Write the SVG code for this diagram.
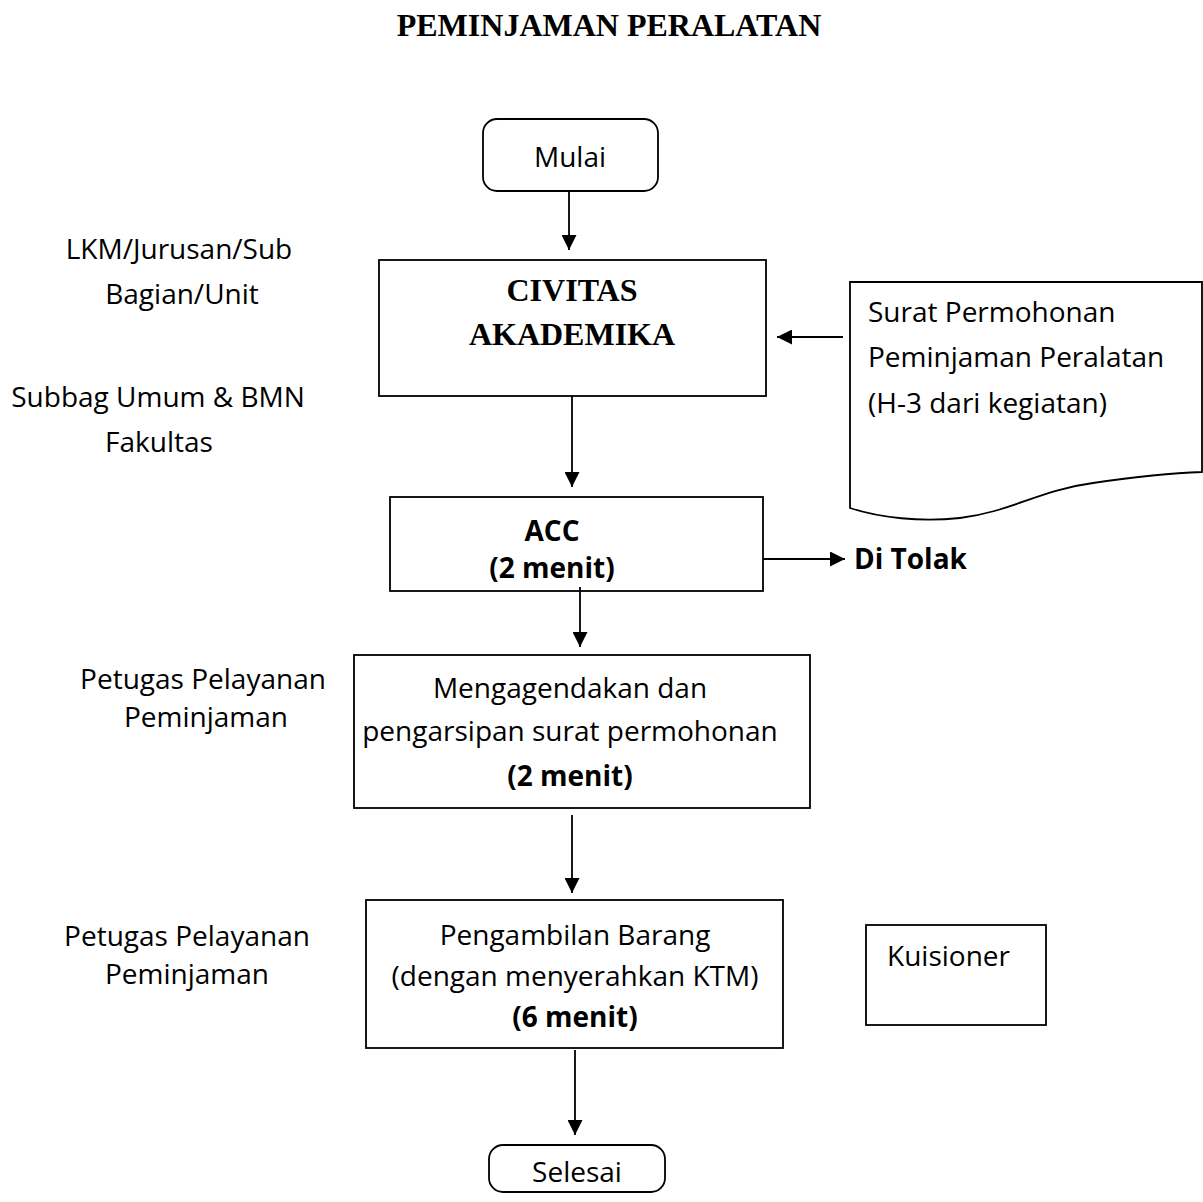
<svg xmlns="http://www.w3.org/2000/svg" width="1203" height="1202" viewBox="0 0 1203 1202">
  <style>
    .box { fill: #fff; stroke: #000; stroke-width: 1.8; }
    .edge { fill: none; stroke: #000; stroke-width: 1.8; }
    .t { font-family: "Open Sans", "Noto Sans", "Liberation Sans", sans-serif; font-size: 28px; fill: #000; }
    .c { text-anchor: middle; }
    .b { font-weight: bold; }
    .serif { font-family: "Liberation Serif", "Times New Roman", serif; font-weight: bold; font-size: 32px; fill: #000; text-anchor: middle; }
  </style>
  <defs>
    <marker id="arrow" markerUnits="userSpaceOnUse" markerWidth="15" markerHeight="15" refX="15" refY="7.5" orient="auto">
      <path d="M0,0 L15,7.5 L0,15 z" fill="#000"/>
    </marker>
  </defs>

  <rect width="1203" height="1202" fill="#fff"/>

  <text class="serif" x="609" y="36">PEMINJAMAN PERALATAN</text>

  <!-- role labels down the left side -->
  <g id="labels">
    <text class="t c" x="179" y="259">LKM/Jurusan/Sub</text>
    <text class="t c" x="182" y="304">Bagian/Unit</text>
    <text class="t c" x="158" y="407">Subbag Umum &amp; BMN</text>
    <text class="t c" x="159" y="452">Fakultas</text>
    <text class="t c" x="203" y="689">Petugas Pelayanan</text>
    <text class="t c" x="206" y="727">Peminjaman</text>
    <text class="t c" x="187" y="946">Petugas Pelayanan</text>
    <text class="t c" x="187" y="984">Peminjaman</text>
  </g>

  <g id="mulai">
    <rect class="box" x="483" y="119" width="175" height="72" rx="14"/>
    <text class="t c" x="570" y="167">Mulai</text>
  </g>

  <g id="civitas">
    <rect class="box" x="379" y="260" width="387" height="136"/>
    <text class="serif" x="572" y="301">CIVITAS</text>
    <text class="serif" x="572" y="345">AKADEMIKA</text>
  </g>

  <g id="surat">
    <path class="box" d="M850,282 H1202 V472 C1170,473 1140,476 1093,483 C1040,490 1010,512 960,518 C920,522 880,518 850,508 Z"/>
    <text class="t" x="868" y="322">Surat Permohonan</text>
    <text class="t" x="868" y="367">Peminjaman Peralatan</text>
    <text class="t" x="868" y="413">(H-3 dari kegiatan)</text>
  </g>

  <g id="acc">
    <rect class="box" x="390" y="497" width="373" height="94"/>
    <text class="t c b" x="552" y="541">ACC</text>
    <text class="t c b" x="552" y="578">(2 menit)</text>
  </g>

  <g id="ditolak">
    <text class="t b" x="854" y="569" font-size="26">Di Tolak</text>
  </g>

  <g id="mengagendakan">
    <rect class="box" x="354" y="655" width="456" height="153"/>
    <text class="t c" x="570" y="698">Mengagendakan dan</text>
    <text class="t c" x="570" y="741">pengarsipan surat permohonan</text>
    <text class="t c b" x="570" y="786">(2 menit)</text>
  </g>

  <g id="pengambilan">
    <rect class="box" x="366" y="900" width="417" height="148"/>
    <text class="t c" x="575" y="945">Pengambilan Barang</text>
    <text class="t c" x="575" y="986">(dengan menyerahkan KTM)</text>
    <text class="t c b" x="575" y="1027">(6 menit)</text>
  </g>

  <g id="kuisioner">
    <rect class="box" x="866" y="925" width="180" height="100"/>
    <text class="t" x="887" y="966">Kuisioner</text>
  </g>

  <g id="selesai">
    <rect class="box" x="489" y="1145" width="176" height="47" rx="14"/>
    <text class="t c" x="577" y="1182">Selesai</text>
  </g>

  <!-- connectors -->
  <g id="connectors">
    <path class="edge" d="M569,191 V250" marker-end="url(#arrow)"/>
    <path class="edge" d="M843,337 H777" marker-end="url(#arrow)"/>
    <path class="edge" d="M572,396 V487" marker-end="url(#arrow)"/>
    <path class="edge" d="M763,559 H845" marker-end="url(#arrow)"/>
    <path class="edge" d="M580,587 V647" marker-end="url(#arrow)"/>
    <path class="edge" d="M572,815 V893" marker-end="url(#arrow)"/>
    <path class="edge" d="M575,1050 V1135" marker-end="url(#arrow)"/>
  </g>
</svg>
